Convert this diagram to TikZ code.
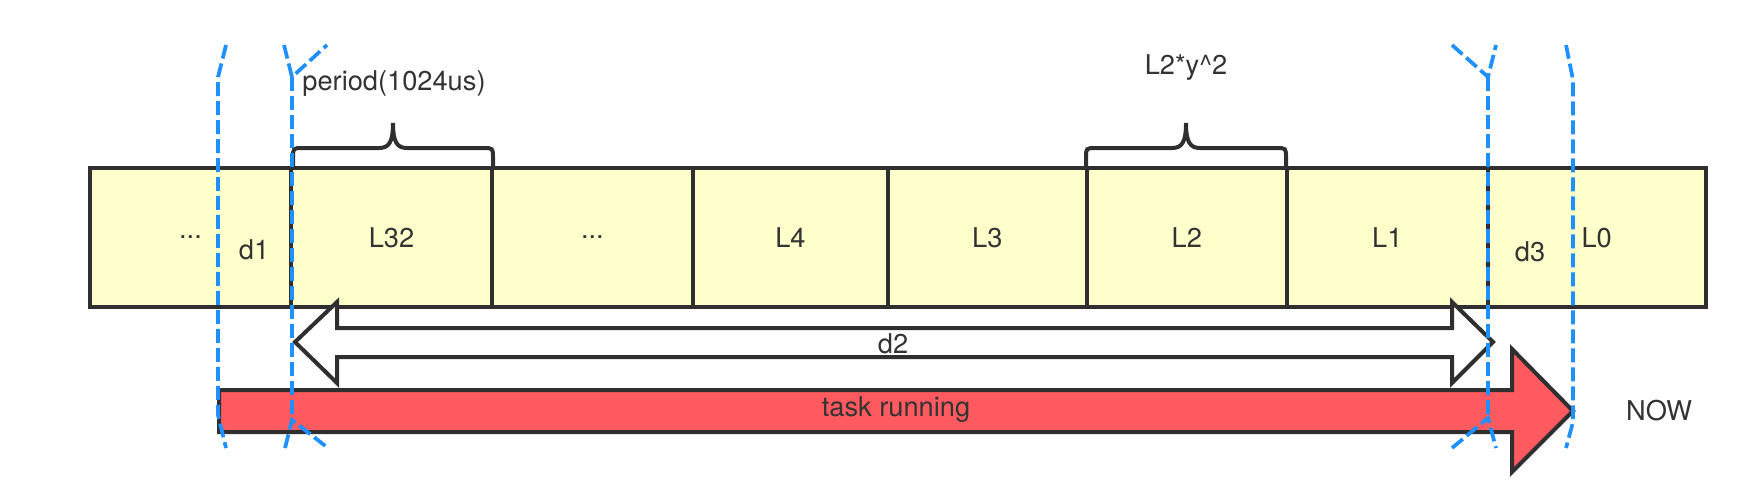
\documentclass[tikz,border=0pt]{standalone}
\usepackage{fontspec}
\setmainfont{TeX Gyre Heros}
\usetikzlibrary{positioning}
\definecolor{cCell}{HTML}{FFFFCC}
\definecolor{cLine}{HTML}{2F2F2F}
\definecolor{cMark}{HTML}{1E90FF}
\definecolor{cRun}{HTML}{FF5A5F}
\definecolor{cText}{HTML}{333333}

\begin{document}
\begin{tikzpicture}[
  x=0.02cm, y=-0.02cm,
  font=\fontsize{15.5}{18}\selectfont,
  cell/.style={
    draw=cLine, line width=0.08cm, fill=cCell, text=cText,
    minimum height=2.78cm, inner sep=0pt, outer sep=0pt,
  },
  lbl/.style={text=cText, inner sep=0pt},
  bracepath/.style={draw=cLine, line width=0.08cm, line cap=round},
  blockarrow/.style={draw=cLine, line width=0.08cm, line join=miter},
  marker/.style={
    draw=cMark, line width=0.075cm, dash pattern=on 0.28cm off 0.1cm,
  },
]
\useasboundingbox (0,0) rectangle (1750,488);

% --- load-history cells, newest on the right ---
\node[cell, minimum width=4.02cm] (c0) at (190.5,237.5) {...};
\node[cell, minimum width=4.02cm, right=0pt of c0] (l32) {L32};
\node[cell, minimum width=4.02cm, right=0pt of l32] (cdots) {...};
\node[cell, minimum width=3.90cm, right=0pt of cdots] (l4) {L4};
\node[cell, minimum width=3.98cm, right=0pt of l4] (l3) {L3};
\node[cell, minimum width=4.00cm, right=0pt of l3] (l2) {L2};
\node[cell, minimum width=4.02cm, right=0pt of l2] (l1) {L1};
\node[cell, minimum width=4.36cm, right=0pt of l1] (l0) {L0};

\node[lbl] (d1) at (254,250) {d1};
\node[lbl] (d3) at (1530,252) {d3};

% Braces over L32 and L2 with their captions.
\draw[bracepath] (293,168) -- (293,158) .. controls (293,148) .. (303,148)
  -- (379,148) .. controls (389,148) and (393,142) .. (393,123)
  .. controls (393,142) and (397,148) .. (407,148)
  -- (483,148) .. controls (493,148) .. (493,158) -- (493,168);
\draw[bracepath] (1086,168) -- (1086,158) .. controls (1086,148) .. (1096,148)
  -- (1172,148) .. controls (1182,148) and (1186,142) .. (1186,123)
  .. controls (1186,142) and (1190,148) .. (1200,148)
  -- (1276,148) .. controls (1286,148) .. (1286,158) -- (1286,168);
\node[lbl] (period) at (394,84) {period(1024us)};
\node[lbl] (decay) at (1186,68) {L2*y\^{}2};

% --- d2: double block arrow ---
\draw[blockarrow, fill=white] (295,342) -- (337,302) -- (337,328) -- (1452,328)
  -- (1452,302) -- (1493,342) -- (1452,383) -- (1452,357) -- (337,357)
  -- (337,383) -- cycle;
\node[lbl] (d2) at (893,344) {d2};

% --- task running: red block arrow ---
\draw[blockarrow, fill=cRun] (219,390) -- (1512,390) -- (1512,349) -- (1573,411)
  -- (1512,472) -- (1512,432) -- (219,432) -- cycle;
\node[lbl] (run) at (896,410) {task running};
\node[lbl] (now) at (1659,411) {NOW};

% Dashed blue markers (drawn last, on top).
\draw[marker] (226,45) -- (218,77) -- (218,415) -- (226,448);
\draw[marker] (292,77) -- (292,420);
\draw[marker] (284,45) -- (292,77) -- (327,45);
\draw[marker] (285,448) -- (292,420) -- (328,448);
\draw[marker] (1488,77) -- (1488,418);
\draw[marker] (1452,45) -- (1488,77) -- (1496,45);
\draw[marker] (1452,448) -- (1488,418) -- (1496,448);
\draw[marker] (1566,45) -- (1573,80) -- (1573,422) -- (1566,448);

\end{tikzpicture}
\end{document}
